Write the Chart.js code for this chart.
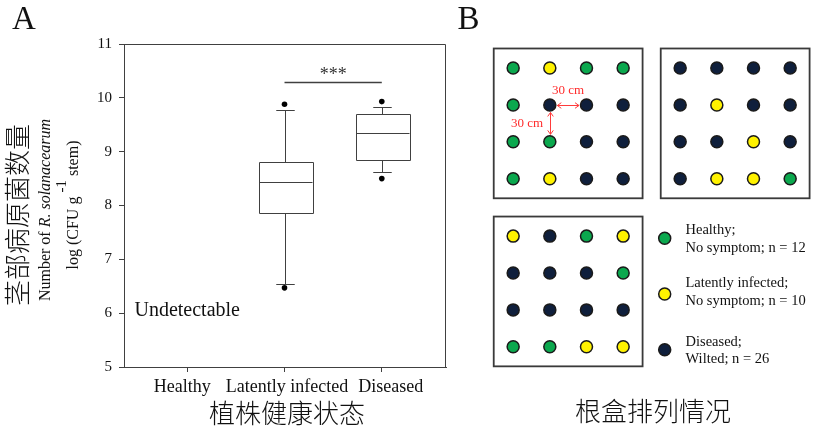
<!DOCTYPE html>
<html>
<head>
<meta charset="utf-8">
<script src="https://cdn.jsdelivr.net/npm/chart.js@4"></script>
<style>
    html, body { margin: 0; padding: 0; background: #fff; }
    #wrap { position: relative; width: 823px; height: 439px; overflow: hidden; }
    #chartA { position: absolute; left: 0; top: 0; }
    #chartB { position: absolute; left: 450px; top: 0; }
</style>
</head>
<body>
<div id="wrap">
    <canvas id="chartA" width="450" height="439"></canvas>
    <canvas id="chartB" width="373" height="439"></canvas>
</div>
<script>
// ---- panel A data ----
const categories = ['Healthy', 'Latently infected', 'Diseased'];
const catPos = [1, 2, 3];
// [lower whisker, Q1, median, Q3, upper whisker]
const latentStats = [6.54, 7.86, 8.44, 8.80, 9.78];
const diseasedStats = [8.62, 8.84, 9.34, 9.70, 9.83];
const latentOutliers = [6.47, 9.88];
const diseasedOutliers = [8.50, 9.93];
const yTicks = [5, 6, 7, 8, 9, 10, 11];
const sigLevel = 10.29;

// ---- panel B data (root boxes, row by row, 4x4) ----
const rootBox1 = ['H','L','H','H', 'H','D','D','D', 'H','H','D','D', 'H','L','D','D'];
const rootBox2 = ['D','D','D','D', 'D','L','D','D', 'D','D','L','D', 'D','L','L','H'];
const rootBox3 = ['L','D','H','L', 'D','D','D','H', 'D','D','D','D', 'H','H','L','L'];
const statusKeys = ['H', 'L', 'D'];
const legendLines = [
    ['Healthy;', 'No symptom; n = 12'],
    ['Latently infected;', 'No symptom; n = 10'],
    ['Diseased;', 'Wilted; n = 26']
];
const statusColors = ['#0ba84e', '#fff200', '#0f1f3c'];

const SERIF = '"Liberation Serif", "Times New Roman", serif';
const CJK = '"Noto Sans CJK SC", sans-serif';
const LINE = '#404040';
// small horizontal nudges of the category labels, as in the original figure
const labelShift = [-5, 2.5, 9];

function drawBox(ctx, x, y, pos, s) {
    const xc = Math.round(x.getPixelForValue(pos)) + 0.5;
    const hw = x.getPixelForValue(pos + 0.277) - x.getPixelForValue(pos);
    const cw = x.getPixelForValue(pos + 0.095) - x.getPixelForValue(pos);
    const py = s.map(v => Math.round(y.getPixelForValue(v)) + 0.5);
    ctx.beginPath();
    ctx.rect(Math.round(xc - hw) + 0.5, py[3], Math.round(2 * hw), py[1] - py[3]);
    ctx.moveTo(Math.round(xc - hw) + 0.5, py[2]); ctx.lineTo(Math.round(xc + hw) + 0.5, py[2]);
    ctx.moveTo(xc, py[3]); ctx.lineTo(xc, py[4]);
    ctx.moveTo(xc - cw, py[4]); ctx.lineTo(xc + cw, py[4]);
    ctx.moveTo(xc, py[1]); ctx.lineTo(xc, py[0]);
    ctx.moveTo(xc - cw, py[0]); ctx.lineTo(xc + cw, py[0]);
    ctx.stroke();
}

const boxPlotPlugin = {
    id: 'boxPlot',
    afterDatasetsDraw(chart) {
        const { ctx, chartArea: a, scales: { x, y } } = chart;
        ctx.save();
        ctx.strokeStyle = LINE;
        ctx.lineWidth = 1;
        // frame
        ctx.beginPath();
        ctx.moveTo(a.left, Math.round(a.top) + 0.5);
        ctx.lineTo(Math.round(a.right) - 0.5, Math.round(a.top) + 0.5);
        ctx.lineTo(Math.round(a.right) - 0.5, a.bottom);
        ctx.stroke();

        drawBox(ctx, x, y, 2, latentStats);
        drawBox(ctx, x, y, 3, diseasedStats);

        // significance bar
        const sy = Math.round(y.getPixelForValue(sigLevel)) + 0.5;
        ctx.lineWidth = 1.3;
        ctx.beginPath();
        ctx.moveTo(x.getPixelForValue(2), sy);
        ctx.lineTo(x.getPixelForValue(3), sy);
        ctx.stroke();
        ctx.fillStyle = '#333';
        ctx.font = '18px ' + SERIF;
        ctx.textAlign = 'center';
        ctx.textBaseline = 'alphabetic';
        ctx.fillText('***', x.getPixelForValue(2.5), sy - 3);

        ctx.fillStyle = '#111';
        ctx.font = '20px ' + SERIF;
        ctx.textBaseline = 'middle';
        ctx.fillText('Undetectable', x.getPixelForValue(1), y.getPixelForValue(6.04));

        // category labels
        ctx.font = '18px ' + SERIF;
        ctx.textBaseline = 'top';
        categories.forEach((c, i) => {
            ctx.fillText(c, x.getPixelForValue(catPos[i]) + labelShift[i], a.bottom + 11);
        });

        // x title
        ctx.textBaseline = 'middle';
        ctx.font = '300 26px ' + CJK;
        ctx.fillText('植株健康状态', 287, 413);

        // panel letter
        ctx.textAlign = 'left';
        ctx.textBaseline = 'alphabetic';
        ctx.font = '33px ' + SERIF;
        ctx.fillText('A', 12, 29);

        // rotated y titles
        ctx.save();
        ctx.translate(17.5, 215);
        ctx.rotate(-Math.PI / 2);
        ctx.textAlign = 'center';
        ctx.textBaseline = 'middle';
        ctx.font = '300 26px ' + CJK;
        ctx.fillText('茎部病原菌数量', 0, 0);
        ctx.restore();

        ctx.save();
        ctx.translate(50, 210);
        ctx.rotate(-Math.PI / 2);
        ctx.textBaseline = 'alphabetic';
        ctx.textAlign = 'left';
        const parts = [['Number of ', ''], ['R.', 'italic '], [' solanacearum', 'italic ']];
        let total = 0;
        parts.forEach(p => { ctx.font = p[1] + '16px ' + SERIF; total += ctx.measureText(p[0]).width; });
        let cx = -total / 2;
        parts.forEach(p => {
            ctx.font = p[1] + '16px ' + SERIF;
            ctx.fillText(p[0], cx, 0);
            cx += ctx.measureText(p[0]).width;
        });
        ctx.restore();

        ctx.save();
        ctx.translate(78, 205);
        ctx.rotate(-Math.PI / 2);
        ctx.textBaseline = 'alphabetic';
        ctx.textAlign = 'left';
        const logParts = [['log (CFU g ', 16, 0], ['-1', 15, -12], [' stem)', 16, 0]];
        total = 0;
        logParts.forEach(p => { ctx.font = p[1] + 'px ' + SERIF; total += ctx.measureText(p[0]).width; });
        cx = -total / 2;
        logParts.forEach(p => {
            ctx.font = p[1] + 'px ' + SERIF;
            ctx.fillText(p[0], cx, p[2]);
            cx += ctx.measureText(p[0]).width;
        });
        ctx.restore();
        ctx.restore();
    }
};

const outlierPoints = [
    ...latentOutliers.map(v => ({ x: 2, y: v })),
    ...diseasedOutliers.map(v => ({ x: 3, y: v }))
];

new Chart(document.getElementById('chartA'), {
    type: 'scatter',
    data: {
        datasets: [{
            data: outlierPoints,
            pointRadius: 2.8,
            backgroundColor: '#000',
            borderWidth: 0
        }]
    },
    options: {
        responsive: false,
        animation: false,
        layout: { padding: { left: 84, top: 44, right: 3, bottom: 42 } },
        plugins: { legend: { display: false }, tooltip: { enabled: false } },
        scales: {
            x: {
                type: 'linear',
                min: 0.35,
                max: 3.66,
                afterBuildTicks: s => { s.ticks = catPos.map(v => ({ value: v })); },
                afterFit: s => { s.height = 30; },
                ticks: { display: false },
                grid: { drawOnChartArea: false, tickLength: 5, color: LINE },
                border: { color: LINE }
            },
            y: {
                min: 5,
                max: 11,
                afterBuildTicks: s => { s.ticks = yTicks.map(v => ({ value: v })); },
                afterFit: s => { s.width = 40; },
                ticks: {
                    padding: 7,
                    color: '#111',
                    font: { family: SERIF, size: 15 }
                },
                grid: { drawOnChartArea: false, tickLength: 5, color: LINE },
                border: { color: LINE }
            }
        }
    },
    plugins: [boxPlotPlugin]
});

// ---- panel B ----
const BOX_STEP = 4.555;
const boxOrigins = [[0, 0], [BOX_STEP, 0], [0, BOX_STEP]];
const rootBoxes = [rootBox1, rootBox2, rootBox3];

const plantDatasets = statusKeys.map((key, i) => {
    const pts = [];
    rootBoxes.forEach((box, b) => {
        box.forEach((st, k) => {
            if (st === key) pts.push({ x: boxOrigins[b][0] + (k % 4), y: boxOrigins[b][1] + Math.floor(k / 4) });
        });
    });
    return {
        label: legendLines[i][0],
        data: pts,
        pointRadius: 6,
        backgroundColor: statusColors[i],
        borderColor: '#1a1a1a',
        borderWidth: 1.5
    };
});

function arrowHead(ctx, x, y, dx, dy) {
    const s = 4;
    ctx.moveTo(x - dx * s - dy * s * 0.7, y - dy * s - dx * s * 0.7);
    ctx.lineTo(x, y);
    ctx.lineTo(x - dx * s + dy * s * 0.7, y - dy * s + dx * s * 0.7);
}

const layoutPlugin = {
    id: 'rootLayout',
    beforeDatasetsDraw(chart) {
        const { ctx, scales: { x, y } } = chart;
        ctx.save();
        ctx.strokeStyle = '#3a3a3a';
        ctx.lineWidth = 1.8;
        boxOrigins.forEach(o => {
            const l = x.getPixelForValue(o[0] - 0.53), r = x.getPixelForValue(o[0] + 3.53);
            const t = y.getPixelForValue(o[1] - 0.53), b = y.getPixelForValue(o[1] + 3.53);
            ctx.strokeRect(l, t, r - l, b - t);
        });
        ctx.restore();
    },
    afterDatasetsDraw(chart) {
        const { ctx, scales: { x, y } } = chart;
        ctx.save();
        // 30 cm spacing arrows
        const gap = 7.5;
        ctx.strokeStyle = '#ff3b3b';
        ctx.fillStyle = '#ff2a2a';
        ctx.lineWidth = 1;
        const hx1 = x.getPixelForValue(1) + gap, hx2 = x.getPixelForValue(2) - gap, hy = Math.round(y.getPixelForValue(1)) + 0.5;
        const vx = Math.round(x.getPixelForValue(1)) + 0.5, vy1 = y.getPixelForValue(1) + gap, vy2 = y.getPixelForValue(2) - gap;
        ctx.beginPath();
        ctx.moveTo(hx1, hy); ctx.lineTo(hx2, hy);
        arrowHead(ctx, hx1, hy, -1, 0); arrowHead(ctx, hx2, hy, 1, 0);
        ctx.moveTo(vx, vy1); ctx.lineTo(vx, vy2);
        arrowHead(ctx, vx, vy1, 0, -1); arrowHead(ctx, vx, vy2, 0, 1);
        ctx.stroke();
        ctx.font = '13px ' + SERIF;
        ctx.textAlign = 'center';
        ctx.textBaseline = 'middle';
        ctx.fillText('30 cm', x.getPixelForValue(1.5), hy - 15);
        ctx.fillText('30 cm', vx - 23.5, y.getPixelForValue(1.5));

        // legend
        const legendY = [238.3, 294, 349.7];
        const textY = [[230, 247.7], [283.3, 301], [341.7, 359.3]];
        legendLines.forEach((lines, i) => {
            ctx.beginPath();
            ctx.arc(214.7, legendY[i], 6, 0, Math.PI * 2);
            ctx.fillStyle = statusColors[i];
            ctx.fill();
            ctx.strokeStyle = '#1a1a1a';
            ctx.lineWidth = 1.5;
            ctx.stroke();
            ctx.fillStyle = '#111';
            ctx.font = '14.5px ' + SERIF;
            ctx.textAlign = 'left';
            ctx.fillText(lines[0], 235.5, textY[i][0]);
            ctx.fillText(lines[1], 235.5, textY[i][1]);
        });

        ctx.fillStyle = '#111';
        ctx.textAlign = 'center';
        ctx.font = '300 26px ' + CJK;
        ctx.fillText('根盒排列情况', 203, 411);

        ctx.textAlign = 'left';
        ctx.textBaseline = 'alphabetic';
        ctx.font = '33px ' + SERIF;
        ctx.fillText('B', 7.5, 29);
        ctx.restore();
    }
};

new Chart(document.getElementById('chartB'), {
    type: 'scatter',
    data: { datasets: plantDatasets },
    options: {
        responsive: false,
        animation: false,
        layout: { padding: 0 },
        plugins: { legend: { display: false }, tooltip: { enabled: false } },
        scales: {
            x: { display: false, min: -1.518, max: 8.246 },
            y: { display: false, min: -1.641, max: 9.851, reverse: true }
        }
    },
    plugins: [layoutPlugin]
});
</script>
</body>
</html>
